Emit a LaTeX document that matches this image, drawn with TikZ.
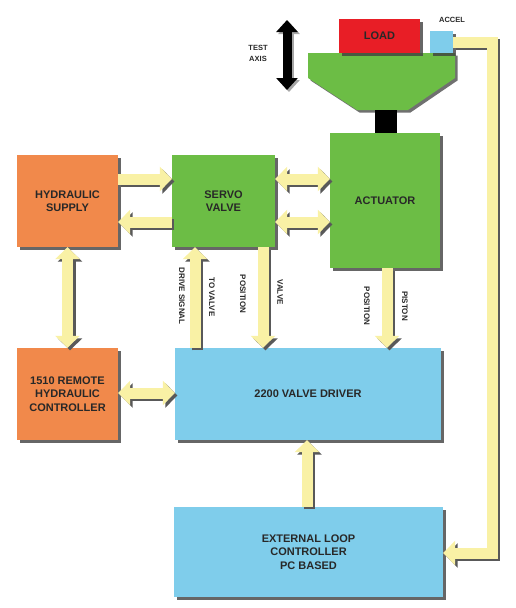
\documentclass[tikz,border=0pt]{standalone}
\usepackage{fontspec}
\setmainfont{Liberation Sans}
\usetikzlibrary{arrows.meta,shadows}

\definecolor{hydorange}{RGB}{241,137,75}
\definecolor{valvegreen}{RGB}{108,189,69}
\definecolor{driverblue}{RGB}{127,205,235}
\definecolor{loadred}{RGB}{232,30,38}
\definecolor{pipeyellow}{RGB}{249,241,165}
\definecolor{labelgray}{RGB}{40,40,40}

% all pipes, drawn once for the shadow and once on top
\newcommand{\pipework}{%
  % Hydraulic pipes
  \draw[pipe, tip] (hyd.east |- rowA) -- (servo.west |- rowA);
  \draw[pipe, tip] (servo.west |- rowB) -- (hyd.east |- rowB);
  \draw[pipe, tips] (servo.east |- rowA) -- (act.west |- rowA);
  \draw[pipe, tips] (servo.east |- rowB) -- (act.west |- rowB);
  \draw[pipe, tips] (hyd.south) -- (remote.north);
  \draw[pipe, tips] (remote.east |- rowC) -- (driver.west |- rowC);
  % Signal pipes
  \draw[pipe, tip] (driver.north -| colA) -- (servo.south -| colA);
  \draw[pipe, tip] (servo.south -| colB) -- (driver.north -| colB);
  \draw[pipe, tip] (act.south -| colC) -- (driver.north -| colC);
  \draw[pipe, tip] (ext.north -| colD) -- (driver.south -| colD);
  \draw[pipe, tip] (accel.east) -- (fbtop) -- (fbbot) -- (ext.east |- fbbot);
}

\begin{document}
\begin{tikzpicture}[x=1pt,y=-1pt,
  box/.style={rectangle, inner sep=0pt, align=center, text=labelgray,
    font=\bfseries\fontsize{11}{13.5}\selectfont,
    drop shadow={shadow xshift=3pt, shadow yshift=-3pt, fill=black!75, opacity=.8}},
  pipe/.style={line width=11pt, draw=pipeyellow, line join=miter},
  tip/.style={-{Triangle[width=24pt,length=12pt]}},
  tips/.style={{Triangle[width=24pt,length=12pt]}-{Triangle[width=24pt,length=12pt]}},
  sig/.style={rotate=-90, text=labelgray, font=\bfseries\fontsize{8}{9}\selectfont},
  small/.style={text=labelgray, align=center, font=\bfseries\fontsize{7.5}{11}\selectfont}]

\useasboundingbox (0,0) rectangle (516,608);

% Test rig: table, load and accelerometer
\fill[black!70, opacity=.8, shift={(2.5pt,-2.5pt)}]
  (308,53) -- (455,53) -- (455,78) -- (408,110) -- (357,110) -- (308,78) -- cycle;
\fill[valvegreen]
  (308,53) -- (455,53) -- (455,78) -- (408,110) -- (357,110) -- (308,78) -- cycle;
\fill[black] (375,110) rectangle (397,134);
\node[box, fill=loadred, minimum width=81pt, minimum height=34pt] (load) at (379.5,36) {LOAD};
\node[box, fill=driverblue, minimum width=23pt, minimum height=22pt] (accel) at (441.5,42) {};
\node[small] (accellbl) at (452,20) {ACCEL};

% Test axis
\coordinate (axtop) at (287,20);
\coordinate (axbot) at (287,90);
\begin{scope}[transform canvas={shift={(2pt,-2pt)}}]
  \draw[line width=9pt, black!35, {Triangle[width=21pt,length=12pt]}-{Triangle[width=21pt,length=12pt]}] (axtop) -- (axbot);
\end{scope}
\draw[line width=9pt, black, {Triangle[width=21pt,length=12pt]}-{Triangle[width=21pt,length=12pt]}] (axtop) -- (axbot);
\node[small] (axis) at (258,53) {TEST\\AXIS};

% Main blocks
\node[box, fill=hydorange, minimum width=101pt, minimum height=92pt] (hyd) at (67.5,201) {HYDRAULIC\\SUPPLY};
\node[box, fill=valvegreen, minimum width=103pt, minimum height=92pt] (servo) at (223.5,201) {SERVO\\VALVE};
\node[box, fill=valvegreen, minimum width=110pt, minimum height=135pt] (act) at (385,200.5) {ACTUATOR};
\node[box, fill=hydorange, minimum width=101pt, minimum height=92pt] (remote) at (67.5,394) {1510 REMOTE\\HYDRAULIC\\CONTROLLER};
\node[box, fill=driverblue, minimum width=266pt, minimum height=92pt] (driver) at (308,394) {2200 VALVE DRIVER};
\node[box, fill=driverblue, minimum width=269pt, minimum height=90pt] (ext) at (308.5,552) {EXTERNAL LOOP\\CONTROLLER\\PC BASED};

% Rows and columns of the pipes
\coordinate (rowA) at (0,179);
\coordinate (rowB) at (0,222);
\coordinate (rowC) at (0,393);
\coordinate (colA) at (195,0);
\coordinate (colB) at (263,0);
\coordinate (colC) at (387,0);
\coordinate (colD) at (307,0);
\coordinate (fbtop) at (492,42);
\coordinate (fbbot) at (492,553);

% Pipes: shadow first, then the yellow
\begin{scope}[transform canvas={shift={(2.5pt,-2.5pt)}}, pipe/.append style={draw=black!65}]
  \pipework
\end{scope}
\pipework

% Signal labels
\node[sig] (drive) at (182,296) {DRIVE SIGNAL};
\node[sig] (tovalve) at (212,297) {TO VALVE};
\node[sig] (vpos) at (243,294) {POSITION};
\node[sig] (valve) at (280,292) {VALVE};
\node[sig] (ppos) at (367,306) {POSITION};
\node[sig] (piston) at (405,306) {PISTON};

\end{tikzpicture}
\end{document}
